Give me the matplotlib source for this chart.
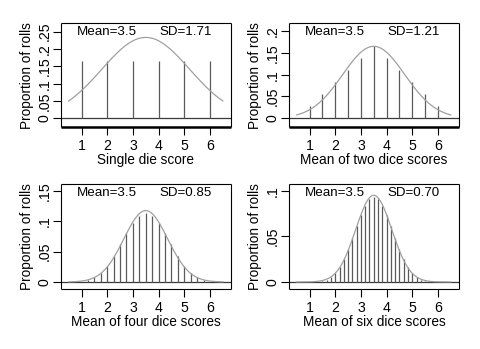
import numpy as np
import matplotlib
matplotlib.use("Agg")
import matplotlib.pyplot as plt

plt.rcParams['font.family'] = ['Liberation Sans', 'DejaVu Sans']

# outcome counts for the sum of n dice, n = 1, 2, 4, 6
counts_one = [1, 1, 1, 1, 1, 1]
counts_two = [1, 2, 3, 4, 5, 6, 5, 4, 3, 2, 1]
counts_four = [1, 4, 10, 20, 35, 56, 80, 104, 125, 140, 146,
               140, 125, 104, 80, 56, 35, 20, 10, 4, 1]
counts_six = [1, 6, 21, 56, 126, 252, 456, 756, 1161, 1666, 2247,
              2856, 3431, 3906, 4221, 4332, 4221, 3906, 3431, 2856,
              2247, 1666, 1161, 756, 456, 252, 126, 56, 21, 6, 1]

n_dice = [1, 2, 4, 6]
means = [3.5, 3.5, 3.5, 3.5]
sds = [1.71, 1.21, 0.85, 0.70]
xlabels = ["Single die score", "Mean of two dice scores",
           "Mean of four dice scores", "Mean of six dice scores"]
yticks = [[0, .05, .1, .15, .2, .25], [0, .05, .1, .15, .2],
          [0, .05, .1, .15], [0, .05, .1]]
ytick_labels = [["0", ".05", ".1", ".15", ".2", ".25"],
                ["0", ".05", ".1", ".15", ".2"],
                ["0", ".05", ".1", ".15"],
                ["0", ".05", ".1"]]
ylims = [(-0.025, 0.274), (-0.020, 0.2176), (-0.0115, 0.161), (-0.0077, 0.1073)]
all_counts = [counts_one, counts_two, counts_four, counts_six]

fig = plt.figure(figsize=(4.81, 3.49), dpi=100)
W, H = 481, 349
boxes = [(61, 23.3, 231, 127), (289, 23.3, 459, 127),
         (61, 184, 231, 289), (289, 184, 459, 289)]

for i in range(4):
    x0, y0, x1, y1 = boxes[i]
    ax = fig.add_axes([x0 / W, 1 - y1 / H, (x1 - x0) / W, (y1 - y0) / H])
    n = n_dice[i]
    c = np.array(all_counts[i], dtype=float)
    prop = c / c.sum()
    xs = np.arange(n, 6 * n + 1) / n
    step = 1.0 / n

    ax.axhline(0, color="#3a3a3a", lw=0.9, zorder=1)
    ax.vlines(xs, 0, prop, color="#5a5a5a", lw=0.9, zorder=2)

    # normal curve with the shown mean and sd, scaled to the spike spacing
    gx = np.linspace(0.5, 6.5, 200)
    gy = step * np.exp(-0.5 * ((gx - means[i]) / sds[i]) ** 2) / (sds[i] * np.sqrt(2 * np.pi))
    ax.plot(gx, gy, color="#a0a0a0", lw=0.9, zorder=3)

    ax.set_xlim(0.2, 6.82)
    ax.set_ylim(*ylims[i])
    ax.set_xticks([1, 2, 3, 4, 5, 6])
    ax.set_xticklabels(["1", "2", "3", "4", "5", "6"], fontsize=10.2)
    ax.set_yticks(yticks[i])
    ax.set_yticklabels(ytick_labels[i], fontsize=10.2, rotation=90, va="center")
    ax.tick_params(axis="both", length=5.5, width=0.8, color="black", pad=1.5)
    ax.tick_params(axis="x", pad=3.5)
    for s in ax.spines.values():
        s.set_linewidth(0.8)
        s.set_capstyle("butt")
    if i < 2:
        ax.spines["bottom"].set_linewidth(1.8)
    ax.set_xlabel(xlabels[i], fontsize=9.8, labelpad=0)
    ax.set_ylabel("Proportion of rolls", fontsize=9.8, labelpad=2.5)

    ax.text(16 / (x1 - x0), 1 - 8.5 / (y1 - y0), "Mean=%.1f" % means[i],
            transform=ax.transAxes, fontsize=9.6, va="center", ha="left")
    ax.text(98 / (x1 - x0), 1 - 8.5 / (y1 - y0), "SD=%.2f" % sds[i],
            transform=ax.transAxes, fontsize=9.6, va="center", ha="left")

fig.savefig("out.png", dpi=100)
